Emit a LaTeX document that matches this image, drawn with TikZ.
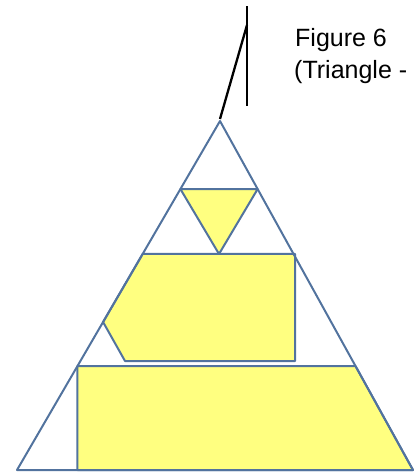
\documentclass[tikz,border=0pt]{standalone}
\usepackage{fontspec}
\setmainfont{Liberation Sans}
\usetikzlibrary{calc}
\definecolor{rimblue}{RGB}{82,115,158}
\definecolor{pieceyellow}{RGB}{255,255,128}

\begin{document}
\begin{tikzpicture}[x=1pt,y=-1pt,
  rim/.style={draw=rimblue, line width=2pt, line join=round},
  piece/.style={rim, fill=pieceyellow},
  callout/.style={draw=black, line width=2.3pt},
  caption/.style={anchor=base west, inner sep=0pt, font=\fontsize{25}{29}\selectfont}]
\useasboundingbox (0,0) rectangle (415,474);
\coordinate (top) at (220,121);
\coordinate (bl) at (17,470);
\coordinate (br) at (413,470);
\coordinate (l1) at ($(top)!0.195!(bl)$);
\coordinate (r1) at ($(top)!0.195!(br)$);
\coordinate (l2) at ($(top)!0.381!(bl)$);
\coordinate (r2) at ($(top)!0.381!(br)$);
\coordinate (l3) at ($(top)!0.576!(bl)$);
\coordinate (l4) at ($(top)!0.702!(bl)$);
\coordinate (r4) at ($(top)!0.702!(br)$);
\coordinate (vee) at (219,254);
\path[piece] (l1) -- (r1) -- (vee) -- cycle;
\path[piece] (l2) -- (r2) -- (295,254) -- (295,361) -- (125,361) -- (l3) -- cycle;
\path[piece] (l4) -- (r4) -- (br) -- (l4 |- br) -- cycle;
\path[rim] (top) -- (bl) -- (br) -- cycle;
\path[rim] (l1) -- (r1);
\path[rim] (l2) -- (r2);
\path[rim] (l4) -- (r4);
\coordinate (callhi) at (247,6);
\coordinate (calllo) at (247,106);
\coordinate (callknee) at (247,25);
\coordinate (calltip) at (220,119);
\path[callout] (callhi) -- (calllo);
\path[callout] (callknee) -- (calltip);
\node[caption] (title) at (295,46) {Figure 6};
\node[caption] (subtitle) at (294,78) {(Triangle -};
\end{tikzpicture}
\end{document}
